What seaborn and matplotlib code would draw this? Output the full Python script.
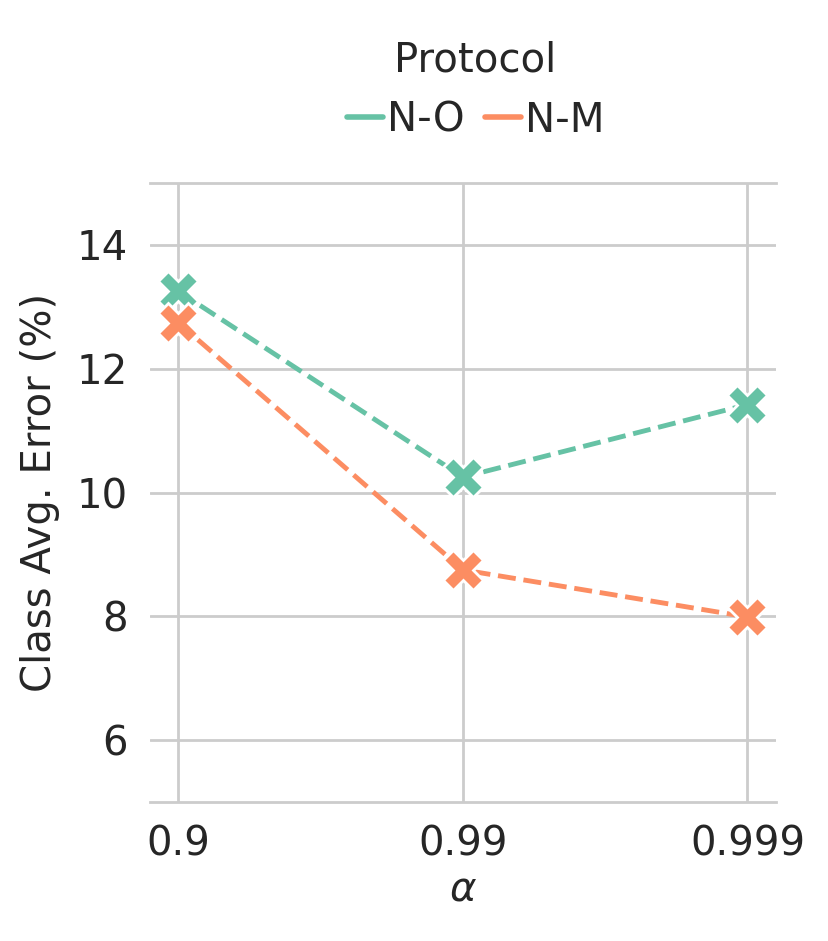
import matplotlib.pyplot as plt
import pandas as pd
import seaborn as sns
from matplotlib.lines import Line2D

sns.set_theme(style="whitegrid")
plt.rcParams["font.family"] = ["DejaVu Sans"]

ALPHAS = ["0.9", "0.99", "0.999"]
PROTOCOLS = ["N-O", "N-M"]
ERR_NO = [13.25, 10.25, 11.42]
ERR_NM = [12.74, 8.75, 7.99]

df = pd.DataFrame({
    "alpha": ALPHAS * 2,
    "Protocol": [PROTOCOLS[0]] * 3 + [PROTOCOLS[1]] * 3,
    "error": ERR_NO + ERR_NM,
})

palette = sns.color_palette("Set2", 2)

fig, ax = plt.subplots(figsize=(829 / 200, 941 / 200), dpi=200)
fig.subplots_adjust(left=0.181, right=0.936, top=0.8055, bottom=0.1477)

sns.lineplot(data=df, x="alpha", y="error", hue="Protocol", palette=palette,
             marker="X", markersize=14.5, markeredgecolor="white", markeredgewidth=1,
             linestyle="--", linewidth=1.75, legend=False, ax=ax)

ax.set_ylim(5, 15)
ax.set_yticks([6, 8, 10, 12, 14])
ax.tick_params(labelsize=14.5, length=0, pad=8)
ax.set_xlabel(r"$\alpha$", fontsize=14.5, labelpad=2)
ax.set_ylabel("Class Avg. Error (%)", fontsize=14.5, labelpad=6)
ax.grid(True, color="#cccccc", linewidth=1)
ax.spines["left"].set_visible(False)
ax.spines["right"].set_visible(False)
for side in ("top", "bottom"):
    ax.spines[side].set_color("#cccccc")
    ax.spines[side].set_linewidth(1)

handles = [Line2D([], [], color=c, linewidth=2) for c in palette]
ax.legend(handles, PROTOCOLS, title="Protocol", ncol=2, loc="lower center",
          bbox_to_anchor=(0.52, 1.01), frameon=False, fontsize=14.5, title_fontsize=14.5,
          handlelength=0.9, handletextpad=0.1, columnspacing=0.5)

fig.savefig("out.png", dpi=200)
